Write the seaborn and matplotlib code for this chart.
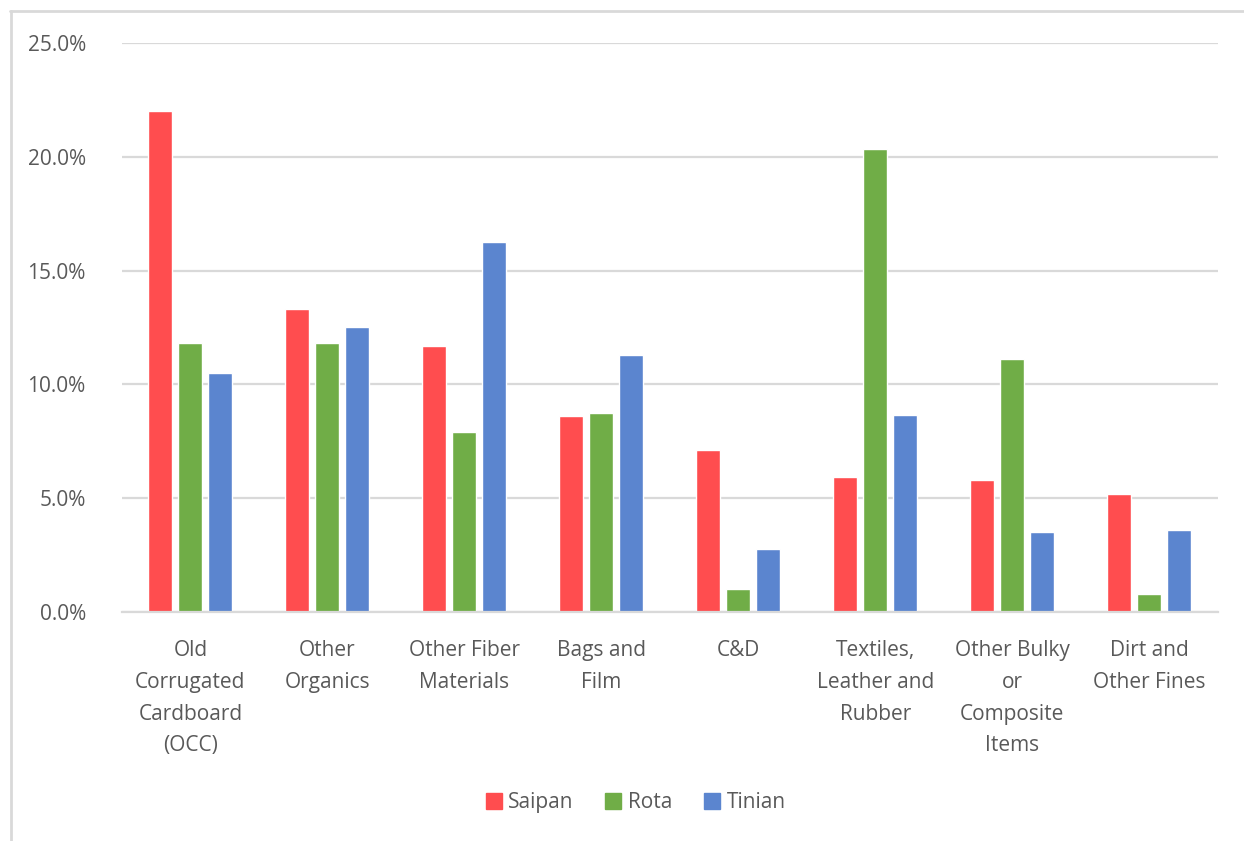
import matplotlib
matplotlib.use("Agg")
import matplotlib.pyplot as plt
from matplotlib.lines import Line2D
from matplotlib.ticker import FuncFormatter, MultipleLocator
import pandas as pd
import seaborn as sns

categories = [
    "Old\nCorrugated\nCardboard\n(OCC)",
    "Other\nOrganics",
    "Other Fiber\nMaterials",
    "Bags and\nFilm",
    "C&D",
    "Textiles,\nLeather and\nRubber",
    "Other Bulky\nor\nComposite\nItems",
    "Dirt and\nOther Fines",
]
islands = ["Saipan", "Rota", "Tinian"]
saipan = [22.0, 13.3, 11.7, 8.6, 7.1, 5.95, 5.8, 5.2]
rota = [11.8, 11.8, 7.9, 8.75, 1.0, 20.35, 11.1, 0.8]
tinian = [10.5, 12.5, 16.25, 11.3, 2.75, 8.65, 3.5, 3.6]
colors = ["#FF4D4F", "#70AD47", "#5B85CF"]

df = pd.DataFrame({
    "category": categories * 3,
    "island": [islands[0]] * 8 + [islands[1]] * 8 + [islands[2]] * 8,
    "share": saipan + rota + tinian,
})

sns.set_theme(style="white")
plt.rcParams["font.family"] = ["Open Sans", "DejaVu Sans"]
text_color = "#595959"
grid_color = "#D9D9D9"

fig = plt.figure(figsize=(12.44, 8.41), dpi=100)
ax = fig.add_axes([0.098, 0.2723, 0.881, 0.6766])

sns.barplot(data=df, x="category", y="share", hue="island",
            hue_order=islands, order=categories, palette=colors,
            width=0.657, gap=0.2, saturation=1, ax=ax, legend=False)

ax.set_xlim(-0.5, 7.5)
ax.set_ylim(0, 25)
ax.yaxis.set_major_locator(MultipleLocator(5))
ax.yaxis.set_major_formatter(FuncFormatter(lambda v, p: f"{v:.1f}%"))
ax.grid(axis="y", color=grid_color, linewidth=1.6)
ax.set_axisbelow(True)
for s in ["top", "right", "left"]:
    ax.spines[s].set_visible(False)
ax.spines["bottom"].set_color(grid_color)
ax.spines["bottom"].set_linewidth(1.6)
ax.set_xlabel("")
ax.set_ylabel("")
ax.tick_params(axis="both", length=0, labelcolor=text_color, labelsize=15)
ax.tick_params(axis="y", pad=26)
ax.tick_params(axis="x", pad=20)
for lab in ax.get_xticklabels():
    lab.set_linespacing(1.68)

handles = [Line2D([0], [0], marker="s", linestyle="", markersize=11,
                  markerfacecolor=c, markeredgecolor=c) for c in colors]
fig.legend(handles, islands, loc="center", bbox_to_anchor=(0.51, 0.046),
           ncol=3, frameon=False, fontsize=15, labelcolor=text_color,
           handletextpad=0.2, columnspacing=1.4, handlelength=1.0)

# light frame around the chart area
frame_kw = dict(color=grid_color, linewidth=2.0, transform=fig.transFigure)
fig.add_artist(Line2D([10 / 1244, 1.0], [1 - 11 / 841, 1 - 11 / 841], **frame_kw))
fig.add_artist(Line2D([11 / 1244, 11 / 1244], [0, 1 - 11 / 841], **frame_kw))

fig.savefig("out.png", dpi=100, facecolor="white")
